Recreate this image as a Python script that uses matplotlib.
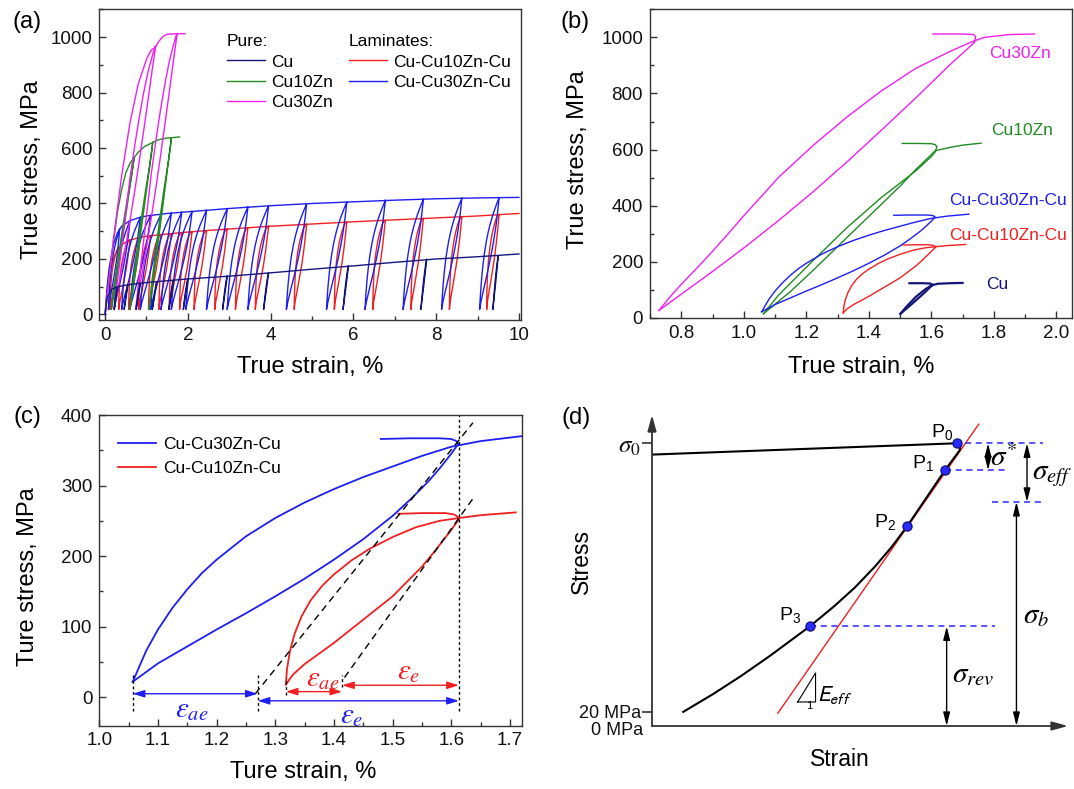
import numpy as np
import matplotlib.pyplot as plt
from matplotlib.ticker import MultipleLocator

plt.rcParams['font.family'] = ['Liberation Sans', 'DejaVu Sans']
plt.rcParams['mathtext.fontset'] = 'stix'

W, H = 1074, 789
NAVY, BLUE, RED, GREEN, MAGENTA = '#16167a', '#1e1ef0', '#f02020', '#228b22', '#f020f0'
FRAME = '#333333'

# ---------------- (b) single loops of the pure metals ----------------
cu_hook_x = [1.53, 1.57, 1.595, 1.603, 1.600]
cu_hook_y = [124, 124, 123, 120, 114]
cu_unl_x = [1.600, 1.58, 1.55, 1.52, 1.501]
cu_unl_y = [114, 92, 62, 33, 15]
cu_rel_x = [1.501, 1.52, 1.55, 1.58, 1.60, 1.62, 1.66, 1.70]
cu_rel_y = [15, 40, 75, 102, 116, 122, 124, 125]

zn10_hook_x = [1.507, 1.56, 1.60, 1.612, 1.618, 1.614]
zn10_hook_y = [622, 622, 621, 618, 610, 598]
zn10_unl_x = [1.614, 1.60, 1.551, 1.50, 1.441, 1.332, 1.222, 1.15, 1.063]
zn10_unl_y = [598, 582, 530, 470, 406, 289, 170, 95, 15]
zn10_rel_x = [1.063, 1.11, 1.222, 1.332, 1.441, 1.551, 1.60, 1.616, 1.66, 1.70, 1.759]
zn10_rel_y = [15, 80, 205, 324, 430, 525, 575, 597, 608, 616, 623]

zn30_hook_x = [1.605, 1.70, 1.735, 1.742, 1.738]
zn30_hook_y = [1012, 1012, 1010, 1002, 982]
zn30_unl_x = [1.738, 1.66, 1.551, 1.441, 1.332, 1.222, 1.112, 1.003, 0.893, 0.80, 0.729]
zn30_unl_y = [982, 903, 785, 670, 558, 450, 348, 252, 160, 85, 27]
zn30_rel_x = [0.729, 0.76, 0.80, 0.85, 0.893, 0.95, 1.003, 1.112, 1.222, 1.332, 1.441,
              1.551, 1.66, 1.731, 1.77, 1.85, 1.93]
zn30_rel_y = [27, 70, 120, 178, 229, 300, 368, 502, 615, 718, 810, 890, 950, 985, 1000, 1010, 1012]

# ---------------- (b)/(c) loops of the laminates ----------------
l30_hook_x = [1.48, 1.53, 1.58, 1.600, 1.609, 1.612]
l30_hook_y = [366, 367, 367, 366, 363, 359]
l30_unl_x = [1.612, 1.60, 1.58, 1.56, 1.53, 1.50, 1.45, 1.40, 1.35, 1.30, 1.25, 1.20, 1.15, 1.10, 1.057]
l30_unl_y = [359, 345, 324, 305, 280, 257, 224, 195, 168, 143, 119, 96, 72, 48, 22]
l30_rel_x = [1.057, 1.08, 1.10, 1.125, 1.15, 1.175, 1.20, 1.25, 1.30, 1.35, 1.40, 1.45, 1.50,
             1.55, 1.60, 1.65, 1.72]
l30_rel_y = [22, 66, 96, 127, 153, 176, 195, 228, 254, 276, 295, 312, 327, 342, 355, 363, 370]

l10_hook_x = [1.51, 1.55, 1.59, 1.605, 1.611, 1.613]
l10_hook_y = [260, 261, 261, 259, 256, 252]
l10_unl_x = [1.613, 1.60, 1.57, 1.55, 1.50, 1.45, 1.40, 1.35, 1.33, 1.318]
l10_unl_y = [252, 237, 205, 185, 143, 110, 77, 47, 32, 18]
l10_rel_x = [1.318, 1.320, 1.325, 1.333, 1.345, 1.36, 1.38, 1.40, 1.43, 1.46, 1.50, 1.54,
             1.58, 1.613, 1.65, 1.71]
l10_rel_y = [18, 40, 65, 90, 115, 137, 158, 174, 194, 210, 227, 241, 250, 254, 258, 262]

# ---------------- (a) envelopes and cycle points ----------------
cu_env_x = [0, 0.05, 0.15, 0.3, 0.6, 1, 2, 3, 4, 5, 6, 7, 8, 9, 10]
cu_env_y = [0, 60, 90, 100, 108, 115, 128, 138, 150, 163, 175, 188, 200, 208, 218]
cu_top_x = [0.3, 0.55, 0.85, 1.25, 1.65, 2.0, 2.95, 3.95, 5.88, 7.77, 9.5]
cu_top_y = [100, 106, 111, 118, 123, 128, 138, 150, 175, 198, 211]
cu_bot_x = [0.22, 0.46, 0.75, 1.14, 1.54, 1.89, 2.84, 3.83, 5.75, 7.63, 9.37]

zn10_env_x = [0, 0.1, 0.2, 0.3, 0.4, 0.5, 0.6, 0.7, 0.8, 0.95, 1.15, 1.3, 1.45, 1.6, 1.8]
zn10_env_y = [0, 130, 260, 370, 450, 510, 545, 565, 585, 605, 620, 630, 635, 637, 640]
zn10_top_x = [0.70, 1.15, 1.60]
zn10_top_y = [565, 620, 637]
zn10_bot_x = [0.15, 0.60, 1.06]

zn30_env_x = [0, 0.2, 0.4, 0.6, 0.8, 1.0, 1.1, 1.22, 1.3, 1.4, 1.5, 1.74, 1.93]
zn30_env_y = [0, 270, 500, 690, 830, 920, 950, 965, 985, 1002, 1010, 1012, 1012]
zn30_top_x = [1.22, 1.74]
zn30_top_y = [965, 1010]
zn30_bot_x = [0.22, 0.74]

l30_env_x = [0, 0.05, 0.1, 0.2, 0.3, 0.4, 0.6, 0.8, 1.0, 1.5, 2, 2.5, 3, 4, 5, 6, 7, 8, 9, 10]
l30_env_y = [0, 100, 170, 250, 295, 318, 338, 348, 355, 364, 370, 376, 382, 392, 400, 406, 412, 417, 420, 422]
l30_top_x = [0.35, 0.6, 0.85, 1.1, 1.35, 1.6, 1.85, 2.1, 2.45, 2.95, 3.45, 3.95, 4.87, 5.84, 6.77, 7.69, 8.62, 9.52]
l30_top_y = [307, 338, 350, 357, 361, 365, 368, 371, 375, 381, 387, 392, 399, 405, 411, 415, 419, 421]
l30_bot_x = [0.08, 0.22, 0.4, 0.6, 0.85, 1.1, 1.35, 1.6, 1.95, 2.45, 2.95, 3.45, 4.38, 5.35, 6.28, 7.2, 8.13, 9.05]

l10_env_x = [0, 0.05, 0.1, 0.2, 0.3, 0.4, 0.6, 0.8, 1.0, 1.5, 2, 2.5, 3, 4, 5, 6, 7, 8, 9, 10]
l10_env_y = [0, 90, 150, 200, 235, 252, 268, 276, 282, 290, 297, 303, 308, 318, 326, 334, 341, 348, 355, 364]
l10_top_x = [0.35, 0.6, 0.85, 1.1, 1.35, 1.6, 1.85, 2.1, 2.45, 2.95, 3.45, 3.95, 4.87, 5.84, 6.77, 7.69, 8.62, 9.52]
l10_top_y = [244, 268, 278, 283, 288, 291, 295, 298, 302, 308, 313, 318, 325, 333, 339, 346, 352, 360]
l10_bot_x = [0.12, 0.33, 0.57, 0.81, 1.05, 1.3, 1.55, 1.8, 2.15, 2.65, 3.15, 3.63, 4.57, 5.54, 6.47, 7.39, 8.32, 9.22]
a_bot_y = 18

# ---------------- (c) construction lines ----------------
c_vline_x = [1.057, 1.27, 1.318, 1.414, 1.613]
c_vline_lo = [-20, -20, 3, 15, -20]
c_vline_hi = [36, 32, 25, 31, 400]
c_dash_x = [[1.266, 1.637], [1.418, 1.64]]
c_dash_y = [[5, 389], [28, 285]]
c_arr_x0 = [1.057, 1.27, 1.318, 1.414]
c_arr_x1 = [1.27, 1.613, 1.414, 1.613]
c_arr_y = [5, -5, 8, 17]
c_arr_col = [BLUE, BLUE, RED, RED]
c_lab = [r'$\varepsilon_{ae}$', r'$\varepsilon_e$', r'$\varepsilon_{ae}$', r'$\varepsilon_e$']
c_lab_x = [1.158, 1.43, 1.381, 1.527]
c_lab_y = [-17, -25, 27, 37]

# ---------------- (d) schematic ----------------
d_curve_x = [0, 7.51, 7.60, 7.58, 7.22, 6.28, 5.9, 5.5, 5.0, 4.5, 3.89, 2.9, 2.2, 1.5, 0.77]
d_curve_y = [384, 400, 398, 390, 362, 282, 253, 226, 196, 170, 141, 99, 71, 45, 20]
d_red_x = [3.10, 8.05]
d_red_y = [18, 427]
d_pt_x = [7.51, 7.22, 6.28, 3.89]
d_pt_y = [400, 362, 283, 141]
d_pt_lab = ['P_0', 'P_1', 'P_2', 'P_3']
d_pt_lab_x = [7.14, 6.67, 5.74, 3.40]
d_pt_lab_y = [416, 372, 288, 157]
d_dash_y = [400, 362, 317, 141]
d_dash_x0 = [7.71, 7.22, 8.37, 3.89]
d_dash_x1 = [9.63, 8.74, 9.63, 8.45]
d_arr_x = [8.28, 9.24, 8.98, 7.26]
d_arr_y0 = [400, 400, 317, 141]
d_arr_y1 = [362, 317, 0, 0]
d_sig_lab = [r'$\sigma^{*}$', r'$\sigma_{eff}$', r'$\sigma_b$', r'$\sigma_{rev}$']
d_sig_x = [8.67, 9.85, 9.46, 7.9]
d_sig_y = [379, 355, 157, 73]
d_tri_x = [3.59, 4.03, 4.03, 3.59]
d_tri_y = [34, 75, 34, 34]


def box(l, t, r, b):
    return [l / W, 1 - b / H, (r - l) / W, (b - t) / H]


def label_at(ax, bx, xl, yl):
    l, t, r, b = bx
    ax.xaxis.label.set_va('center')
    ax.yaxis.label.set_va('center')
    ax.xaxis.set_label_coords((xl[0] - l) / (r - l), (b - xl[1]) / (b - t))
    ax.yaxis.set_label_coords((yl[0] - l) / (r - l), (b - yl[1]) / (b - t))


def frame(ax):
    for s in ax.spines.values():
        s.set_color(FRAME)
        s.set_linewidth(1.0)
    ax.tick_params(which='both', direction='in', colors=FRAME, labelcolor='#111111',
                   labelsize=13.5, pad=5)
    ax.tick_params(which='major', length=5, width=1)
    ax.tick_params(which='minor', length=3, width=1)


def scaled_loop(unl_x, unl_y, rel_x, rel_y, top_x, top_y, bot_x, bot_y):
    # reuse the shape of a measured loop, stretched onto another cycle's end points
    ux, uy, rx, ry = map(np.asarray, (unl_x, unl_y, rel_x, rel_y))
    keep = rx < ux[0]
    x = np.concatenate([ux, rx[keep], ux[:1]])
    y = np.concatenate([uy, ry[keep], uy[:1]])
    sx = (top_x - bot_x) / (ux[0] - ux[-1])
    sy = (top_y - bot_y) / (uy[0] - uy[-1])
    return bot_x + (x - ux[-1]) * sx, bot_y + (y - uy[-1]) * sy


fig = plt.figure(figsize=(W / 100, H / 100), dpi=100)

# ================= (a) =================
BA = (99.3, 9.3, 521, 320)
ax = fig.add_axes(box(*BA))
frame(ax)
series = [
    (l10_env_x, l10_env_y, l10_top_x, l10_top_y, l10_bot_x,
     (l10_unl_x, l10_unl_y, l10_rel_x, l10_rel_y), RED, 'Cu-Cu10Zn-Cu'),
    (l30_env_x, l30_env_y, l30_top_x, l30_top_y, l30_bot_x,
     (l30_unl_x, l30_unl_y, l30_rel_x, l30_rel_y), BLUE, 'Cu-Cu30Zn-Cu'),
    (zn10_env_x, zn10_env_y, zn10_top_x, zn10_top_y, zn10_bot_x,
     (zn10_unl_x, zn10_unl_y, zn10_rel_x, zn10_rel_y), GREEN, 'Cu10Zn'),
    (zn30_env_x, zn30_env_y, zn30_top_x, zn30_top_y, zn30_bot_x,
     (zn30_unl_x, zn30_unl_y, zn30_rel_x, zn30_rel_y), MAGENTA, 'Cu30Zn'),
    (cu_env_x, cu_env_y, cu_top_x, cu_top_y, cu_bot_x,
     (cu_unl_x, cu_unl_y, cu_rel_x, cu_rel_y), NAVY, 'Cu'),
]
handles = {}
for ex, ey, tx, ty, bx_, tmpl, col, name in series:
    h, = ax.plot(ex, ey, color=col, lw=1.0)
    handles[name] = h
    for t_x, t_y, b_x in zip(tx, ty, bx_):
        lx, ly = scaled_loop(*tmpl, t_x, t_y, b_x, a_bot_y)
        ax.plot(lx, ly, color=col, lw=1.0)
ax.set_xlim(-0.14, 10.05)
ax.set_ylim(-20, 1100)
ax.set_yticks([0, 200, 400, 600, 800, 1000])
ax.xaxis.set_major_locator(MultipleLocator(2))
ax.xaxis.set_minor_locator(MultipleLocator(1))
ax.yaxis.set_minor_locator(MultipleLocator(100))
ax.set_xlabel('True strain, %', fontsize=17)
ax.set_ylabel('True stress, MPa', fontsize=17)
label_at(ax, BA, (310, 367), (32, 170))
leg_kw = dict(frameon=False, fontsize=12.5, title_fontsize=12.5, alignment='left',
              handlelength=2.2, handletextpad=0.35, labelspacing=0.3,
              borderpad=0, borderaxespad=0, loc='upper left')
leg1 = ax.legend(handles=[handles['Cu'], handles['Cu10Zn'], handles['Cu30Zn']],
                 labels=['Cu', 'Cu10Zn', 'Cu30Zn'], title='Pure:',
                 bbox_to_anchor=(0.302, 0.92), **leg_kw)
ax.add_artist(leg1)
ax.legend(handles=[handles['Cu-Cu10Zn-Cu'], handles['Cu-Cu30Zn-Cu']],
          labels=['Cu-Cu10Zn-Cu', 'Cu-Cu30Zn-Cu'], title='Laminates:',
          bbox_to_anchor=(0.592, 0.92), **leg_kw)

# ================= (b) =================
BB = (650, 9.3, 1072, 318)
bx = fig.add_axes(box(*BB))
frame(bx)
loops_b = [
    (zn30_hook_x, zn30_hook_y, zn30_unl_x, zn30_unl_y, zn30_rel_x, zn30_rel_y, MAGENTA, 1.0),
    (zn10_hook_x, zn10_hook_y, zn10_unl_x, zn10_unl_y, zn10_rel_x, zn10_rel_y, GREEN, 1.0),
    (l30_hook_x, l30_hook_y, l30_unl_x, l30_unl_y, l30_rel_x, l30_rel_y, BLUE, 1.0),
    (l10_hook_x, l10_hook_y, l10_unl_x, l10_unl_y, l10_rel_x, l10_rel_y, RED, 1.0),
    (cu_hook_x, cu_hook_y, cu_unl_x, cu_unl_y, cu_rel_x, cu_rel_y, NAVY, 1.6),
]
for hx, hy, ux, uy, rx, ry, col, lw in loops_b:
    bx.plot(hx, hy, color=col, lw=lw)
    bx.plot(ux, uy, color=col, lw=lw)
    bx.plot(rx, ry, color=col, lw=lw)
b_names = ['Cu30Zn', 'Cu10Zn', 'Cu-Cu30Zn-Cu', 'Cu-Cu10Zn-Cu', 'Cu']
b_name_x = [1.885, 1.89, 1.846, 1.846, 1.81]
b_name_y = [941, 668, 420, 294, 120]
b_name_c = [MAGENTA, GREEN, BLUE, RED, NAVY]
for n, x, y, c in zip(b_names, b_name_x, b_name_y, b_name_c):
    bx.text(x, y, n, color=c, fontsize=12.5, ha='center', va='center')
bx.set_xlim(0.7, 2.05)
bx.set_ylim(0, 1100)
bx.set_yticks([0, 200, 400, 600, 800, 1000])
bx.set_xticks([0.8, 1.0, 1.2, 1.4, 1.6, 1.8, 2.0])
bx.xaxis.set_major_formatter(plt.FormatStrFormatter('%.1f'))
bx.xaxis.set_minor_locator(MultipleLocator(0.1))
bx.yaxis.set_minor_locator(MultipleLocator(100))
bx.set_xlabel('True strain, %', fontsize=17)
bx.set_ylabel('True stress, MPa', fontsize=17)
label_at(bx, BB, (861, 367), (578, 160))

# ================= (c) =================
BC = (99.3, 415, 521.6, 725.5)
cx = fig.add_axes(box(*BC))
frame(cx)
for hx, hy, ux, uy, rx, ry, col, name in [
        (l30_hook_x, l30_hook_y, l30_unl_x, l30_unl_y, l30_rel_x, l30_rel_y, BLUE, 'Cu-Cu30Zn-Cu'),
        (l10_hook_x, l10_hook_y, l10_unl_x, l10_unl_y, l10_rel_x, l10_rel_y, RED, 'Cu-Cu10Zn-Cu')]:
    cx.plot(hx, hy, color=col, lw=1.3)
    cx.plot(ux, uy, color=col, lw=1.3)
    cx.plot(rx, ry, color=col, lw=1.3, label=name)
cx.vlines(c_vline_x, c_vline_lo, c_vline_hi, colors='k', linestyles=(0, (2, 2)), lw=1.0)
for dx_, dy_ in zip(c_dash_x, c_dash_y):
    cx.plot(dx_, dy_, color='k', ls=(0, (5, 3.5)), lw=1.0)
for x0, x1, y, c in zip(c_arr_x0, c_arr_x1, c_arr_y, c_arr_col):
    cx.annotate('', xy=(x1, y), xytext=(x0, y),
                arrowprops=dict(arrowstyle='<|-|>,head_length=0.7,head_width=0.22',
                                color=c, lw=1.0, shrinkA=0, shrinkB=0, mutation_scale=10))
for t, x, y, c in zip(c_lab, c_lab_x, c_lab_y, c_arr_col):
    cx.text(x, y, t, color=c, fontsize=21, ha='center', va='center')
cx.set_xlim(1.0, 1.72)
cx.set_ylim(-40, 400)
cx.set_xticks([1.0, 1.1, 1.2, 1.3, 1.4, 1.5, 1.6, 1.7])
cx.xaxis.set_major_formatter(plt.FormatStrFormatter('%.1f'))
cx.xaxis.set_minor_locator(MultipleLocator(0.05))
cx.set_yticks([0, 100, 200, 300, 400])
cx.yaxis.set_minor_locator(MultipleLocator(50))
cx.legend(loc='upper left', bbox_to_anchor=(0.045, 0.93), frameon=False, fontsize=12.5,
          handlelength=2.2, handletextpad=0.4, labelspacing=0.5, borderpad=0, borderaxespad=0)
cx.set_xlabel('Ture strain, %', fontsize=17)
cx.set_ylabel('Ture stress, MPa', fontsize=17)
label_at(cx, BC, (303, 772), (28, 577))

# ================= (d) =================
BD = (652, 415, 1068, 726)
dx = fig.add_axes(box(*BD))
dx.set_xlim(0, 10.25)
dx.set_ylim(0, 440)
for s in dx.spines.values():
    s.set_visible(False)
akw = dict(arrowstyle='-|>,head_length=0.8,head_width=0.22', color=FRAME, lw=1.3,
           shrinkA=0, shrinkB=0, mutation_scale=12)
dx.annotate('', xy=(10.25, 0), xytext=(0, 0), arrowprops=akw, annotation_clip=False)
dx.annotate('', xy=(0, 440), xytext=(0, 0), arrowprops=akw, annotation_clip=False)
dx.set_xticks([])
dx.set_yticks([20, 400])
dx.set_yticklabels(['20 MPa', r'$\sigma_0$'])
dx.tick_params(axis='y', direction='out', length=7, width=1.2, color=FRAME, pad=1,
               labelsize=13, labelcolor='#111111')
dx.get_yticklabels()[1].set_fontsize(18)
dx.text(-0.22, -7, '0 MPa', fontsize=13, color='#111111', ha='right', va='center')
dx.plot(d_red_x, d_red_y, color=RED, lw=1.0)
dx.plot(d_curve_x, d_curve_y, color='k', lw=1.5)
for y, x0, x1 in zip(d_dash_y, d_dash_x0, d_dash_x1):
    dx.plot([x0, x1], [y, y], color='#2a2aff', ls=(0, (4, 3)), lw=1.1)
for x, y0, y1 in zip(d_arr_x, d_arr_y0, d_arr_y1):
    dx.annotate('', xy=(x, y1), xytext=(x, y0),
                arrowprops=dict(arrowstyle='<|-|>,head_length=0.8,head_width=0.2',
                                color='k', lw=1.0, shrinkA=0, shrinkB=0, mutation_scale=10))
dx.plot(d_pt_x, d_pt_y, 'o', ms=6.5, mfc='#2b2bff', mec='#15158c', mew=1.0, zorder=5)
for t, x, y in zip(d_pt_lab, d_pt_lab_x, d_pt_lab_y):
    dx.text(x, y, r'$\mathregular{%s}$' % t, fontsize=14, ha='center', va='center')
for t, x, y in zip(d_sig_lab, d_sig_x, d_sig_y):
    dx.text(x, y, t, fontsize=21, ha='center', va='center', clip_on=False)
dx.plot(d_tri_x, d_tri_y, color='k', lw=0.8)
dx.text(3.87, 29, '1', fontsize=8, ha='center', va='center')
dx.text(4.5, 44, r'$E_{eff}$', fontsize=16, ha='center', va='center', math_fontfamily='stixsans')
dx.set_xlabel('Strain', fontsize=16.5)
dx.set_ylabel('Stress', fontsize=16.5)
label_at(dx, BD, (840, 760), (581, 562))

for t, x, y in [('(a)', 27, 22), ('(b)', 575, 22), ('(c)', 27, 417), ('(d)', 576, 418)]:
    fig.text(x / W, 1 - y / H, t, fontsize=17, ha='center', va='center')

fig.savefig('out.png', dpi=100)
